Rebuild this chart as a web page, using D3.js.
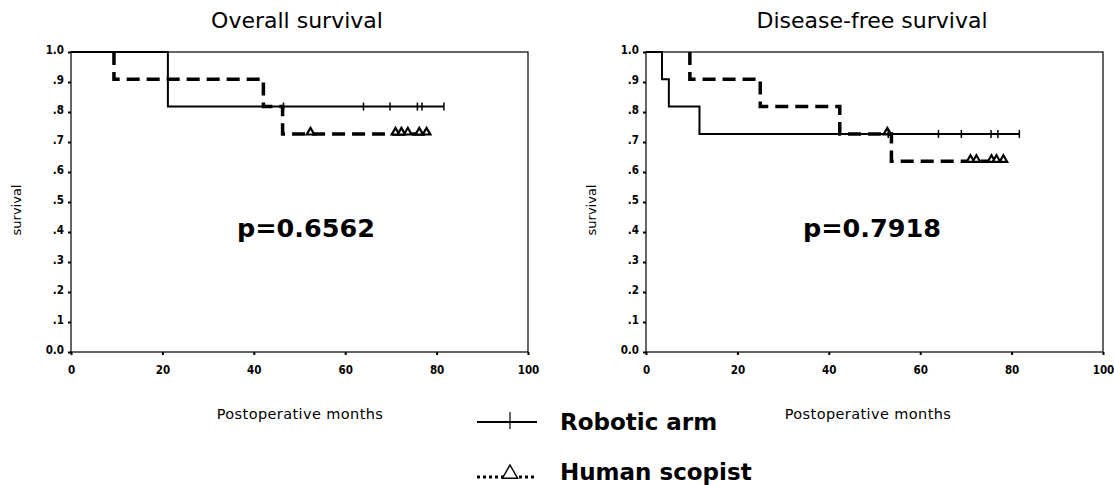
<!DOCTYPE html>
<html>
<head>
<meta charset="utf-8">
<script src="https://cdn.jsdelivr.net/npm/d3@7"></script>
<style>
  body { margin: 0; background: #fff; }
  svg { display: block; }
  .tick text { font-family: "DejaVu Sans Condensed", "DejaVu Sans", sans-serif; font-size: 11.5px; font-weight: bold; fill: #000; }
  .domain { stroke: none; }
  .tick line { stroke: #000; stroke-width: 2; }
</style>
</head>
<body>
<svg width="1114" height="485"></svg>
<script>
(function () {
  'use strict';

  // panel texts
  const panelTitles = ["Overall survival", "Disease-free survival"];
  const pValues = ["p=0.6562", "p=0.7918"];
  const xTicks = [0, 20, 40, 60, 80, 100];
  const yTicks = [0, 0.1, 0.2, 0.3, 0.4, 0.5, 0.6, 0.7, 0.8, 0.9, 1.0];
  const seriesNames = ["Robotic arm", "Human scopist"];

  // overall survival, robotic arm
  const osRobotTimes = [0, 21.2];
  const osRobotSurv = [1.0, 0.818];
  const osRobotEnd = 81.6;
  const osRobotCensor = [46.5, 64, 69.8, 75.8, 76.8, 81.6];
  // overall survival, human scopist
  const osHumanTimes = [0, 9.4, 42.1, 46.3];
  const osHumanSurv = [1.0, 0.909, 0.818, 0.727];
  const osHumanEnd = 78.5;
  const osHumanCensor = [52.4, 71, 72.3, 73.7, 76.2, 77.8];

  // disease-free survival, robotic arm
  const dfsRobotTimes = [0, 3.5, 5, 11.7];
  const dfsRobotSurv = [1.0, 0.909, 0.818, 0.727];
  const dfsRobotEnd = 81.7;
  const dfsRobotCensor = [53, 64, 69, 75.5, 77, 81.7];
  // disease-free survival, human scopist
  const dfsHumanTimes = [0, 9.6, 25, 42.4, 53.7];
  const dfsHumanSurv = [1.0, 0.909, 0.818, 0.727, 0.636];
  const dfsHumanEnd = 78.5;
  const dfsHumanCensor = [52.8, 71, 72.3, 75.6, 76.7, 78.2];

  const panels = [
    { x0: 71, x1: 528, robot: [osRobotTimes, osRobotSurv, osRobotEnd, osRobotCensor],
      human: [osHumanTimes, osHumanSurv, osHumanEnd, osHumanCensor],
      titleX: 297, labelX: 21, pX: 306, monthsX: 300 },
    { x0: 646, x1: 1103, robot: [dfsRobotTimes, dfsRobotSurv, dfsRobotEnd, dfsRobotCensor],
      human: [dfsHumanTimes, dfsHumanSurv, dfsHumanEnd, dfsHumanCensor],
      titleX: 872, labelX: 596, pX: 872, monthsX: 868 }
  ];
  const top = 52, bottom = 352;

  const svg = d3.select("svg");
  const font = '"DejaVu Sans", sans-serif';

  const survAt = (times, surv, t) => {
    let s = surv[0];
    times.forEach((tt, i) => { if (t >= tt) s = surv[i]; });
    return s;
  };
  const stepPoints = (times, surv, end, skipFirst) => {
    const pts = times.map((t, i) => [t, surv[i]]);
    pts.push([end, surv[surv.length - 1]]);
    if (skipFirst) pts[0] = [times[1], surv[0]];
    return pts;
  };
  const triPath = (r) => `M0,${-r}L${r * 0.95},${r * 0.65}L${-r * 0.95},${r * 0.65}Z`;

  panels.forEach((p, i) => {
    const x = d3.scaleLinear().domain([0, 100]).range([p.x0, p.x1]);
    const y = d3.scaleLinear().domain([0, 1]).range([bottom, top]);
    const g = svg.append("g");

    g.append("text").attr("x", p.titleX).attr("y", 28)
      .attr("text-anchor", "middle").style("font-family", font).style("font-size", "22px")
      .text(panelTitles[i]);

    g.append("rect").attr("x", p.x0).attr("y", top)
      .attr("width", p.x1 - p.x0).attr("height", bottom - top)
      .attr("fill", "none").attr("stroke", "#000").attr("stroke-width", 1.2);

    g.append("g").attr("transform", `translate(${p.x0},0)`)
      .call(d3.axisLeft(y).tickValues(yTicks).tickSize(3).tickPadding(4)
        .tickFormat(d => d === 0 ? "0.0" : d === 1 ? "1.0" : "." + Math.round(d * 10)))
      .selectAll("text").attr("dy", "0.1em");
    g.append("g").attr("transform", `translate(0,${bottom})`)
      .call(d3.axisBottom(x).tickValues(xTicks).tickSize(3).tickPadding(11));

    g.append("text").attr("transform", `translate(${p.labelX},210) rotate(-90)`)
      .attr("text-anchor", "middle").style("font-family", font).style("font-size", "13px")
      .text("survival");
    g.append("text").attr("x", p.monthsX).attr("y", 419)
      .attr("text-anchor", "middle").style("font-family", font).style("font-size", "14.5px")
      .style("letter-spacing", "0.4px").text("Postoperative months");
    g.append("text").attr("x", p.pX).attr("y", 237)
      .attr("text-anchor", "middle").style("font-family", font).style("font-size", "25.5px")
      .style("font-weight", "bold").text(pValues[i]);

    const line = d3.line().x(d => x(d[0])).y(d => y(d[1])).curve(d3.curveStepAfter);

    // human scopist (dashed)
    const [ht, hs, he, hc] = p.human;
    g.append("path").datum(stepPoints(ht, hs, he, true)).attr("d", line)
      .attr("fill", "none").attr("stroke", "#000").attr("stroke-width", 3.5)
      .attr("stroke-dasharray", "13,7");
    g.selectAll(".tri").data(hc).enter().append("path").attr("class", "tri")
      .attr("transform", d => `translate(${x(d)},${y(survAt(ht, hs, d)) - 2})`)
      .attr("d", triPath(4)).attr("fill", "#fff").attr("stroke", "#000").attr("stroke-width", 2.2);

    // robotic arm (solid)
    const [rt, rs, re, rc] = p.robot;
    g.append("path").datum(stepPoints(rt, rs, re, false)).attr("d", line)
      .attr("fill", "none").attr("stroke", "#000").attr("stroke-width", 2);
    g.selectAll(".cen").data(rc).enter().append("line").attr("class", "cen")
      .attr("x1", d => x(d)).attr("x2", d => x(d))
      .attr("y1", d => y(survAt(rt, rs, d)) - 4).attr("y2", d => y(survAt(rt, rs, d)) + 4)
      .attr("stroke", "#000").attr("stroke-width", 1.5);
  });

  // legend
  const leg = svg.append("g");
  const lineY = [422, 477];
  const textY = [430, 480];
  leg.append("line").attr("x1", 477).attr("x2", 537).attr("y1", lineY[0]).attr("y2", lineY[0])
    .attr("stroke", "#000").attr("stroke-width", 1.8);
  leg.append("line").attr("x1", 510).attr("x2", 510).attr("y1", 412).attr("y2", 429)
    .attr("stroke", "#000").attr("stroke-width", 1.2);
  leg.append("line").attr("x1", 477).attr("x2", 537).attr("y1", lineY[1]).attr("y2", lineY[1])
    .attr("stroke", "#000").attr("stroke-width", 3).attr("stroke-dasharray", "3,3");
  leg.append("path").attr("transform", `translate(510,${lineY[1] - 4})`).attr("d", triPath(8))
    .attr("fill", "#fff").attr("stroke", "#000").attr("stroke-width", 1.5);
  seriesNames.forEach((name, i) => {
    leg.append("text").attr("x", 560).attr("y", textY[i])
      .style("font-family", font).style("font-size", "23px").style("font-weight", "bold")
      .text(name);
  });
}());
</script>
</body>
</html>
